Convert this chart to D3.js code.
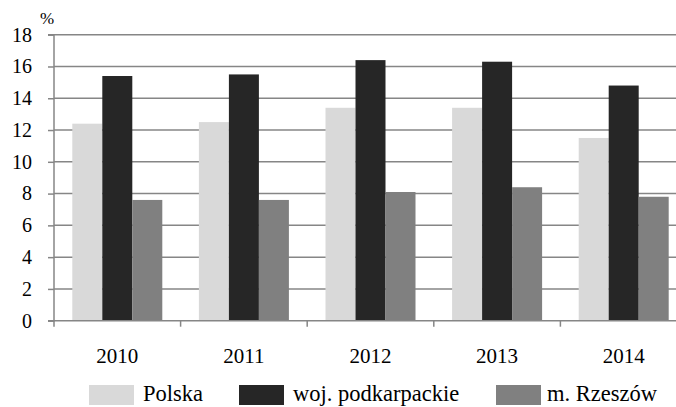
<!DOCTYPE html>
<html><head><meta charset="utf-8">
<script src="https://cdn.jsdelivr.net/npm/d3@7"></script>
<style>body{margin:0;background:#fff}svg{display:block}</style>
</head><body><svg id="c" width="676" height="407" font-family="Liberation Serif, serif"></svg>
<script>
const years = ["2010","2011","2012","2013","2014"];
const seriesNames = ["Polska","woj. podkarpackie","m. Rzeszów"];
const polska = [12.4,12.5,13.4,13.4,11.5];
const podkarpackie = [15.4,15.5,16.4,16.3,14.8];
const rzeszow = [7.6,7.6,8.1,8.4,7.8];
const yTicks = [0,2,4,6,8,10,12,14,16,18];
const colors = ["#d9d9d9","#262626","#808080"];
const seriesVals = [polska, podkarpackie, rzeszow];
const FF = "Liberation Serif, serif";

const svg = d3.select("#c");
const x0 = 54, x1 = 687, yTop = 34.7, yBot = 320.7;
const x = d3.scaleBand().domain(years).range([x0,x1]).paddingInner(0).paddingOuter(0);
const xs = d3.scaleBand().domain(seriesNames).range([0,x.bandwidth()]).paddingInner(0).paddingOuter(0.61);
const y = d3.scaleLinear().domain([0,18]).range([yBot,yTop]);

// gridlines
svg.append("g").selectAll("line").data(yTicks.filter(d=>d>0)).join("line")
  .attr("x1",x0).attr("x2",676).attr("y1",d=>y(d)).attr("y2",d=>y(d))
  .attr("stroke","#868686").attr("stroke-width",1.5);

// bars
const g = svg.append("g");
years.forEach((yr,i)=>{
  seriesNames.forEach((s,j)=>{
    const v = seriesVals[j][i];
    g.append("rect").attr("x",x(yr)+xs(s)).attr("width",xs.bandwidth())
      .attr("y",y(v)).attr("height",y(0)-y(v)).attr("fill",colors[j]);
  });
});

// y axis
const ya = svg.append("g").attr("transform",`translate(${x0},0)`)
  .call(d3.axisLeft(y).tickValues(yTicks).tickSize(6).tickPadding(16));
ya.attr("font-family",FF).attr("font-size",20);
ya.select(".domain").attr("stroke","#868686").attr("stroke-width",1.5).attr("d",`M-6,${yTop}H0V${yBot}H-6`);
ya.selectAll(".tick line").attr("stroke","#868686").attr("stroke-width",1.5);
ya.selectAll("text").attr("font-family",FF).attr("font-size",20).attr("fill","#000");

// x axis line
svg.append("line").attr("x1",x0).attr("x2",676).attr("y1",yBot).attr("y2",yBot)
  .attr("stroke","#868686").attr("stroke-width",1.5);
// x ticks at band boundaries
svg.append("g").selectAll("line").data(years).join("line")
  .attr("x1",d=>x(d)).attr("x2",d=>x(d)).attr("y1",yBot).attr("y2",yBot+6)
  .attr("stroke","#868686").attr("stroke-width",1.5);
// x labels
svg.append("g").selectAll("text").data(years).join("text")
  .attr("x",d=>x(d)+x.bandwidth()/2).attr("y",363).attr("text-anchor","middle")
  .attr("font-family",FF).attr("font-size",21).text(d=>d);

// % label
svg.append("text").attr("x",40).attr("y",24).attr("font-family",FF).attr("font-size",17).text("%");

// legend
const leg = [{sx:89,tx:143},{sx:239,tx:293},{sx:496,tx:547}];
seriesNames.forEach((s,j)=>{
  svg.append("rect").attr("x",leg[j].sx).attr("y",385).attr("width",45).attr("height",20).attr("fill",colors[j]);
  svg.append("text").attr("x",leg[j].tx).attr("y",401).attr("font-family",FF).attr("font-size",22.5).text(s);
});
</script></body></html>
